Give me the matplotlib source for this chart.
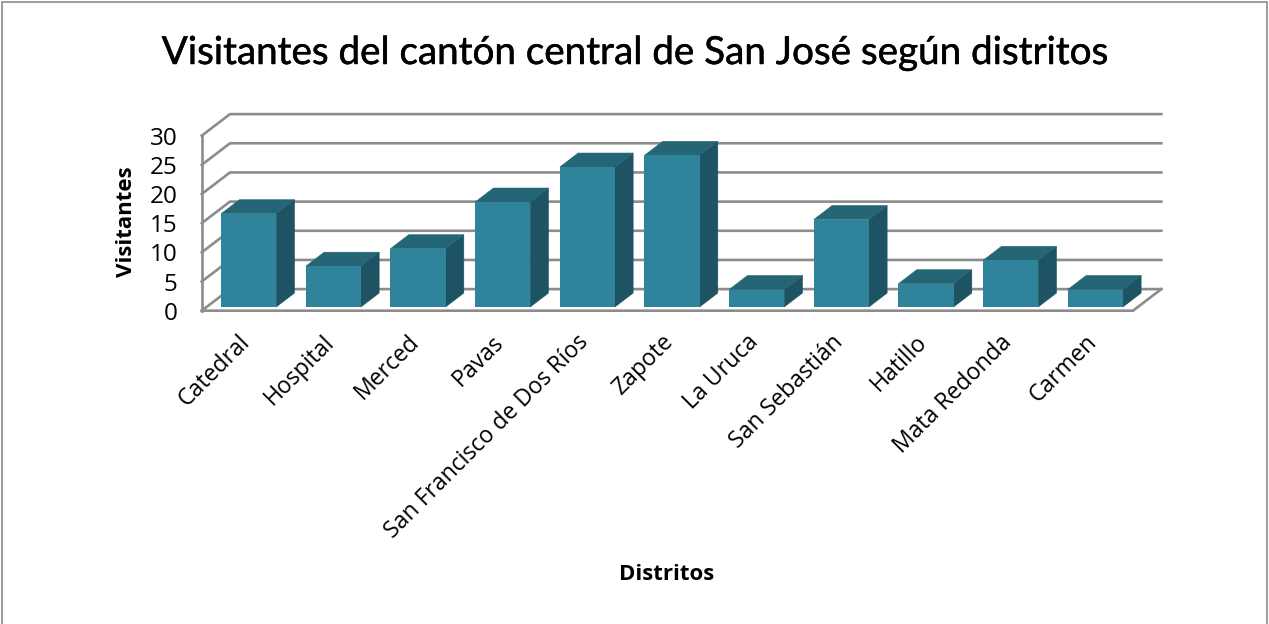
import matplotlib.pyplot as plt
import matplotlib.patheffects as pe
from matplotlib.patches import Polygon, Rectangle
from matplotlib.transforms import ScaledTranslation

categories = ["Catedral", "Hospital", "Merced", "Pavas", "San Francisco de Dos Ríos",
              "Zapote", "La Uruca", "San Sebastián", "Hatillo", "Mata Redonda", "Carmen"]
values = [16, 7, 10, 18, 24, 26, 3, 15, 4, 8, 3]
yticks = [0, 5, 10, 15, 20, 25, 30]

# fake 3d box: wall depth and bar depth, in data units
wall_dx = 0.334
wall_dy = 3.7
bar_dx = 0.216
bar_dy = 2.4
bar_w = 0.65
bar_x0 = 0.055  # bars sit a bit behind the front edge
bar_y0 = 0.63

grid = "#8c8c8c"
front = "#2f849b"
side = "#1e5363"
top = "#246675"

fig = plt.figure(figsize=(12.69, 6.24), dpi=100)
fig.patch.set_facecolor("white")
fig.add_artist(Rectangle((0.0015, -0.01), 0.997, 1.006, transform=fig.transFigure,
                         fill=False, edgecolor=grid, linewidth=1.2))

ax = fig.add_axes([201.7 / 1269, 1 - 310.7 / 624, (1133 - 201.7) / 1269, 175 / 624])
ax.set_xlim(-0.5, 10.5)
ax.set_ylim(0, 30)
ax.patch.set_visible(False)
ax.spines[["top", "right", "bottom"]].set_visible(False)
ax.spines["left"].set_color(grid)
ax.spines["left"].set_linewidth(1.9)

for t in yticks:
    ax.plot([-0.5, -0.5 + wall_dx, 10.5 + wall_dx], [t, t + wall_dy, t + wall_dy],
            color=grid, lw=1.9, clip_on=False, zorder=1)
ax.plot([-0.5, 10.5, 10.5 + wall_dx], [0, 0, wall_dy], color=grid, lw=1.9, clip_on=False, zorder=1)

for i, v in enumerate(values):
    x0 = i - bar_w / 2 + bar_x0
    x1 = x0 + bar_w
    y1 = bar_y0 + v
    ax.add_patch(Polygon([(x1, bar_y0), (x1 + bar_dx, bar_y0 + bar_dy),
                          (x1 + bar_dx, y1 + bar_dy), (x1, y1)],
                         facecolor=side, edgecolor=side, linewidth=0.4, zorder=3, clip_on=False))
    ax.add_patch(Polygon([(x0, y1), (x1, y1), (x1 + bar_dx, y1 + bar_dy), (x0 + bar_dx, y1 + bar_dy)],
                         facecolor=top, edgecolor=top, linewidth=0.4, zorder=3, clip_on=False))
    ax.add_patch(Rectangle((x0, bar_y0), bar_w, v, facecolor=front, edgecolor="none",
                           zorder=4, clip_on=False))

ax.set_yticks(yticks)
ax.tick_params(axis="y", length=0, labelsize=17.5, pad=17.5)
ax.set_xticks(range(len(categories)))
ax.set_xticklabels(categories, rotation=45, ha="right", rotation_mode="anchor", fontsize=16.6)
ax.tick_params(axis="x", length=0, pad=12)
shift = ScaledTranslation(-6 / 100, -3 / 100, fig.dpi_scale_trans)
for lab in ax.get_xticklabels():
    lab.set_family("Open Sans")
    lab.set_transform(lab.get_transform() + shift)
for lab in ax.get_yticklabels():
    lab.set_family("Open Sans")

title = fig.text(636 / 1269, 1 - 53 / 624, "Visitantes del cantón central de San José según distritos",
                 ha="center", va="center", fontsize=27.8, family="Lato", color="black")
title.set_path_effects([pe.withStroke(linewidth=0.35, foreground="black")])
fig.text(126 / 1269, 1 - 222 / 624, "Visitantes", rotation=90, ha="center", va="center",
         fontsize=16, fontweight="bold", family="Open Sans")
fig.text(667 / 1269, 1 - 574 / 624, "Distritos", ha="center", va="center",
         fontsize=16, fontweight="bold", family="Open Sans")

fig.savefig("out.png", dpi=100, facecolor="w")
